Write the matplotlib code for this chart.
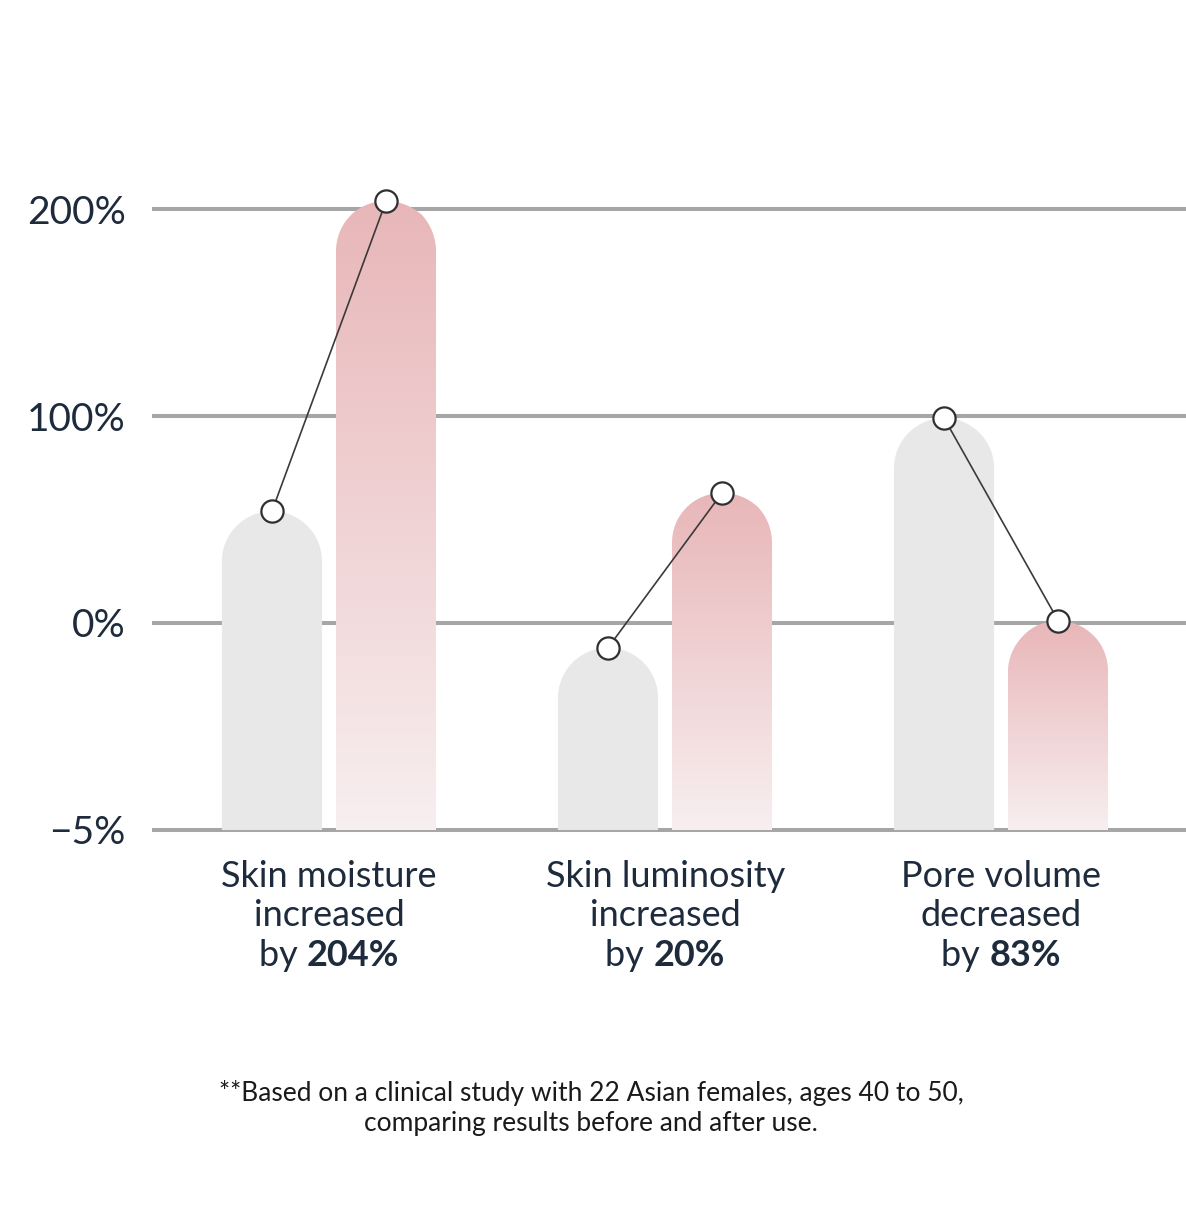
import numpy as np
import matplotlib.pyplot as plt
from matplotlib.path import Path
from matplotlib.patches import PathPatch
from matplotlib.transforms import IdentityTransform, blended_transform_factory
from matplotlib.colors import LinearSegmentedColormap

# data (percent)
categories = ['Skin moisture\nincreased', 'Skin luminosity\nincreased', 'Pore volume\ndecreased']
change_labels = ['204%', '20%', '83%']
before = [54, -0.6, 99]
after = [204, 63, 1]
y_ticks = [-5, 0, 100, 200]
y_labels = ['\u22125%', '0%', '100%', '200%']
footnote = ('**Based on a clinical study with 22 Asian females, ages 40 to 50,\n'
            'comparing results before and after use.')

text_col = '#1e2b3c'
grid_col = '#a6a6a6'
grey_bar = '#e8e8e8'
pink_top = '#e8b6b8'
pink_bottom = '#f7eeef'

plt.rcParams['font.family'] = ['Lato', 'DejaVu Sans']


def fwd(v):
    v = np.asarray(v, dtype=float)
    return np.where(v >= 0, 1 + v / 100.0, 1 + v / 5.0)


def inv(p):
    p = np.asarray(p, dtype=float)
    return np.where(p >= 1, (p - 1) * 100.0, (p - 1) * 5.0)


fig = plt.figure(figsize=(11.86, 12.13), dpi=100)
ax = fig.add_axes([152 / 1186, 0.2987, 1 - 152 / 1186, 0.6143])
ax.set_yscale('function', functions=(fwd, inv))
ax.set_xlim(-0.527, 2.55)
ax.set_ylim(float(inv(-0.1)), float(inv(3.5)))

for s in ax.spines.values():
    s.set_visible(False)
ax.set_xticks([])
ax.set_yticks(y_ticks, y_labels)
ax.tick_params(axis='y', length=0, pad=19, labelsize=28, labelcolor=text_col)
for v in y_ticks:
    ax.axhline(v, color=grid_col, lw=2.9, zorder=0)

x = np.arange(len(categories))
width = 0.298
offset = 0.170

cmap = LinearSegmentedColormap.from_list('pk', [pink_bottom, pink_top])


def capsule(cx, top):
    (xl, yb) = ax.transData.transform((cx - width / 2, -5))
    (xr, yt) = ax.transData.transform((cx + width / 2, top))
    r = (xr - xl) / 2
    arc = Path.arc(0, 180)
    av = arc.vertices * r + [(xl + xr) / 2, yt - r]
    verts = [(xr, yb), (xr, yt - r)] + [tuple(p) for p in av[1:]] + [(xl, yb), (xr, yb)]
    codes = [Path.MOVETO, Path.LINETO] + list(arc.codes[1:]) + [Path.LINETO, Path.CLOSEPOLY]
    return Path(verts, codes)


for i in range(len(categories)):
    # before bar
    cb = x[i] - offset
    p = PathPatch(capsule(cb, before[i]), transform=IdentityTransform(),
                  facecolor=grey_bar, edgecolor='none', zorder=1)
    ax.add_artist(p)
    # after bar with gradient
    ca = x[i] + offset
    clip = PathPatch(capsule(ca, after[i]), transform=IdentityTransform(),
                     facecolor='none', edgecolor='none')
    ys = inv(np.linspace(float(fwd(-5)), float(fwd(after[i])), 80))
    xs = np.array([ca - width / 2, ca + width / 2])
    C = np.linspace(0, 1, len(ys) - 1)[:, None]
    mesh = ax.pcolormesh(xs, ys, C, cmap=cmap, vmin=0, vmax=1,
                         shading='flat', antialiased=False, zorder=1)
    mesh.set_clip_path(clip)
    # connecting line + markers
    ax.plot([cb, ca], [before[i], after[i]], color='#3a3a3a', lw=1.2,
            marker='o', ms=16, mfc='white', mec='#2f2f2f', mew=1.6, zorder=3,
            clip_on=False)

# category labels below
tr = blended_transform_factory(ax.transData, fig.transFigure)
renderer = fig.canvas.get_renderer()
for i, cat in enumerate(categories):
    ax.text(x[i], 1 - 896 / 1213, cat, transform=tr, ha='center', va='center',
            fontsize=26, color=text_col, linespacing=1.22)
    t1 = ax.text(0, 0, 'by ', fontsize=26, color=text_col, va='center', ha='left')
    t2 = ax.text(0, 0, change_labels[i], fontsize=26, color=text_col, va='center',
                 ha='left', fontweight='bold')
    w1 = t1.get_window_extent(renderer).width
    w2 = t2.get_window_extent(renderer).width
    cx_px = ax.transData.transform((x[i], 0))[0]
    y_px = (1 - 956 / 1213) * fig.bbox.height
    x0 = cx_px - (w1 + w2) / 2
    t1.set_transform(IdentityTransform())
    t1.set_position((x0, y_px))
    t2.set_transform(IdentityTransform())
    t2.set_position((x0 + w1, y_px))

fig.text(591 / 1186, 1 - 1108 / 1213, footnote, ha='center', va='center',
         fontsize=19, color='#1a1a1a', linespacing=1.2)

fig.savefig('out.png', dpi=100, facecolor='white')
